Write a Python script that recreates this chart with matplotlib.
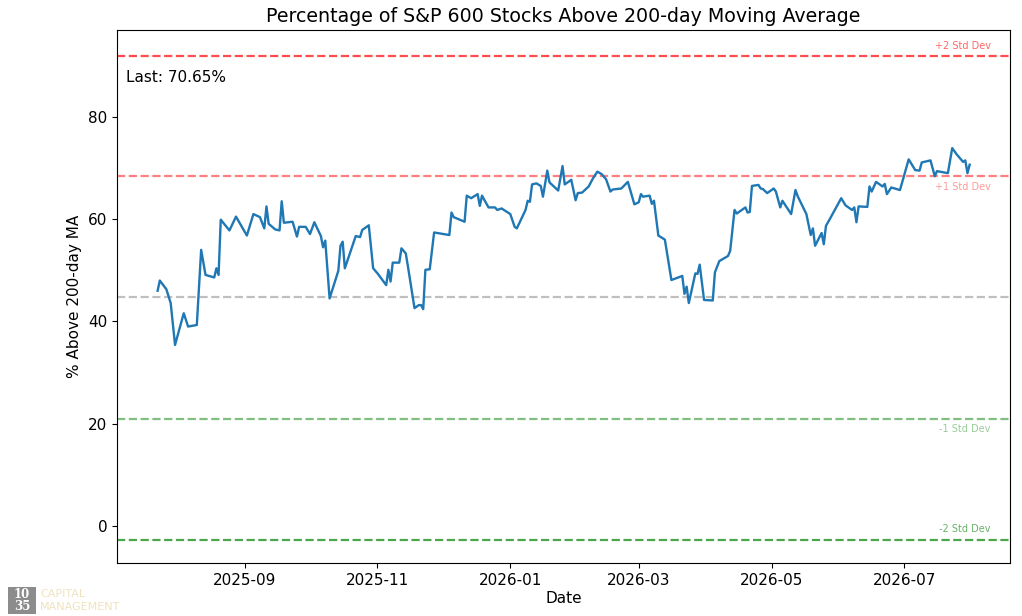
import matplotlib
matplotlib.use("Agg")
import matplotlib.pyplot as plt
import matplotlib.dates as mdates
from matplotlib.patches import Rectangle
import pandas as pd

dates = [
    "2025-07-23", "2025-07-24", "2025-07-27", "2025-07-29", "2025-07-31", "2025-08-04", "2025-08-06",
    "2025-08-10", "2025-08-12", "2025-08-14", "2025-08-18", "2025-08-19", "2025-08-20", "2025-08-21",
    "2025-08-25", "2025-08-28", "2025-09-02", "2025-09-05", "2025-09-08", "2025-09-10", "2025-09-11",
    "2025-09-12", "2025-09-15", "2025-09-17", "2025-09-18", "2025-09-19", "2025-09-23", "2025-09-25",
    "2025-09-26", "2025-09-29", "2025-10-01", "2025-10-03", "2025-10-06", "2025-10-07", "2025-10-08",
    "2025-10-10", "2025-10-14", "2025-10-15", "2025-10-16", "2025-10-17", "2025-10-22", "2025-10-24",
    "2025-10-25", "2025-10-28", "2025-10-30", "2025-11-01", "2025-11-05", "2025-11-06", "2025-11-07",
    "2025-11-08", "2025-11-11", "2025-11-12", "2025-11-14", "2025-11-15", "2025-11-18", "2025-11-20",
    "2025-11-21", "2025-11-22", "2025-11-23", "2025-11-25", "2025-11-27", "2025-12-04", "2025-12-05",
    "2025-12-06", "2025-12-11", "2025-12-12", "2025-12-14", "2025-12-17", "2025-12-18", "2025-12-19",
    "2025-12-22", "2025-12-25", "2025-12-26", "2025-12-28", "2026-01-01", "2026-01-03", "2026-01-04",
    "2026-01-08", "2026-01-09", "2026-01-10", "2026-01-11", "2026-01-13", "2026-01-15", "2026-01-16",
    "2026-01-18", "2026-01-19", "2026-01-23", "2026-01-25", "2026-01-26", "2026-01-29", "2026-01-31",
    "2026-02-01", "2026-02-03", "2026-02-06", "2026-02-08", "2026-02-10", "2026-02-12", "2026-02-14",
    "2026-02-16", "2026-02-17", "2026-02-21", "2026-02-24", "2026-02-27", "2026-03-01", "2026-03-02",
    "2026-03-03", "2026-03-06", "2026-03-07", "2026-03-08", "2026-03-10", "2026-03-13", "2026-03-16",
    "2026-03-21", "2026-03-22", "2026-03-23", "2026-03-24", "2026-03-27", "2026-03-28", "2026-03-29",
    "2026-03-31", "2026-04-04", "2026-04-05", "2026-04-07", "2026-04-11", "2026-04-12", "2026-04-14",
    "2026-04-15", "2026-04-19", "2026-04-20", "2026-04-21", "2026-04-22", "2026-04-25", "2026-04-26",
    "2026-04-27", "2026-04-29", "2026-05-02", "2026-05-03", "2026-05-05", "2026-05-06", "2026-05-10",
    "2026-05-12", "2026-05-13", "2026-05-17", "2026-05-19", "2026-05-20", "2026-05-21", "2026-05-24",
    "2026-05-25", "2026-05-26", "2026-05-28", "2026-06-02", "2026-06-04", "2026-06-07", "2026-06-08",
    "2026-06-09", "2026-06-10", "2026-06-14", "2026-06-15", "2026-06-16", "2026-06-18", "2026-06-21",
    "2026-06-22", "2026-06-23", "2026-06-25", "2026-06-29", "2026-07-03", "2026-07-06", "2026-07-08",
    "2026-07-09", "2026-07-13", "2026-07-15", "2026-07-16", "2026-07-21", "2026-07-23", "2026-07-25",
    "2026-07-28", "2026-07-29", "2026-07-30", "2026-07-31",
]
pct_above = [
    46.0, 48.0, 46.3, 43.6, 35.4, 41.6, 39.0,
    39.3, 54.0, 49.1, 48.6, 50.4, 49.1, 59.9,
    57.8, 60.5, 56.8, 61.0, 60.4, 58.2, 62.5,
    59.1, 58.0, 57.8, 63.5, 59.3, 59.5, 56.6,
    58.5, 58.5, 57.1, 59.4, 56.7, 54.5, 55.8,
    44.5, 49.9, 54.8, 55.6, 50.4, 56.7, 56.5,
    57.9, 58.8, 50.4, 49.4, 47.1, 50.1, 47.8,
    51.5, 51.5, 54.3, 53.3, 50.7, 42.6, 43.2,
    43.2, 42.4, 50.1, 50.2, 57.4, 56.9, 61.3,
    60.4, 59.5, 64.6, 64.1, 64.9, 62.6, 64.6,
    62.3, 62.3, 61.8, 62.1, 61.0, 58.5, 58.2,
    61.8, 63.6, 63.4, 66.8, 67.0, 66.5, 64.4,
    69.5, 67.2, 65.6, 70.4, 66.8, 67.7, 63.7,
    65.1, 65.2, 66.4, 68.0, 69.3, 68.8, 67.8,
    65.4, 65.8, 66.0, 67.3, 62.9, 63.3, 64.9,
    64.4, 64.6, 63.0, 63.6, 56.8, 56.0, 48.1,
    48.9, 45.4, 46.8, 43.6, 49.4, 49.3, 51.1,
    44.2, 44.1, 49.6, 51.8, 52.8, 53.8, 61.8,
    61.1, 62.3, 61.3, 61.4, 66.5, 66.7, 66.0,
    65.9, 65.1, 66.0, 65.4, 62.3, 63.6, 61.0,
    65.7, 64.5, 61.0, 56.9, 58.2, 54.8, 57.3,
    55.1, 58.7, 60.2, 64.1, 62.7, 61.8, 62.3,
    59.4, 62.5, 62.4, 66.4, 65.4, 67.3, 66.4,
    66.9, 64.9, 66.2, 65.7, 71.7, 69.6, 69.5,
    71.1, 71.5, 68.4, 69.4, 69.0, 73.9, 72.7,
    71.2, 71.5, 69.0, 70.65,
]

band_labels = ["+2 Std Dev", "+1 Std Dev", "Mean", "-1 Std Dev", "-2 Std Dev"]
band_levels = [91.9, 68.45, 44.8, 20.95, -2.75]
band_colors = ["red", "red", "gray", "green", "green"]
band_alphas = [0.7, 0.5, 0.5, 0.5, 0.7]

title = "Percentage of S&P 600 Stocks Above 200-day Moving Average"
last_label = "Last: 70.65%"

x = pd.to_datetime(dates)

fig = plt.figure(figsize=(10.22, 6.16), dpi=100)
ax = fig.add_axes([0.1145, 0.086, 0.874, 0.8653])

for lab, lvl, col, al in zip(band_labels, band_levels, band_colors, band_alphas):
    ax.axhline(lvl, color=col, linestyle="--", alpha=al, linewidth=1.6)
    if lab == "Mean":
        continue
    above = lab in ("+2 Std Dev", "-2 Std Dev")
    ax.annotate(lab, xy=(0.978, lvl), xycoords=ax.get_yaxis_transform(),
                xytext=(0, 4 if above else -4), textcoords="offset points",
                ha="right", va="bottom" if above else "top",
                fontsize=7, color=col, alpha=al - 0.1)

ax.plot(x, pct_above, color="#1f77b4", linewidth=1.7)

ax.set_ylim(-7.25, 97.0)
ax.xaxis.set_major_locator(mdates.MonthLocator(bymonth=[1, 3, 5, 7, 9, 11]))
ax.xaxis.set_major_formatter(mdates.DateFormatter("%Y-%m"))
ax.set_yticks([0, 20, 40, 60, 80])
ax.tick_params(labelsize=11)
ax.set_title(title, fontsize=13.7, pad=6)
ax.set_xlabel("Date", fontsize=11, labelpad=2)
ax.set_ylabel("% Above 200-day MA", fontsize=11)
ax.text(0.01, 0.91, last_label, transform=ax.transAxes, fontsize=11,
        ha="left", va="center")

# logo watermark
W, H = 1022, 616
fig.patches.append(Rectangle((8 / W, 1 - 614 / H), 28 / W, 27 / H,
                             transform=fig.transFigure, facecolor="#8c8c8c",
                             edgecolor="none"))
fig.text(22 / W, 1 - 594 / H, "10", family="DejaVu Serif", fontsize=8.5,
         color="white", ha="center", va="center", weight="bold")
fig.text(22 / W, 1 - 607 / H, "35", family="DejaVu Serif", fontsize=8.5,
         color="white", ha="center", va="center", weight="bold")
fig.text(40 / W, 1 - 594 / H, "CAPITAL", fontsize=8, color="#efe3bf",
         ha="left", va="center")
fig.text(40 / W, 1 - 607 / H, "MANAGEMENT", fontsize=8, color="#efe3bf",
         ha="left", va="center")

fig.savefig("out.png", dpi=100)
